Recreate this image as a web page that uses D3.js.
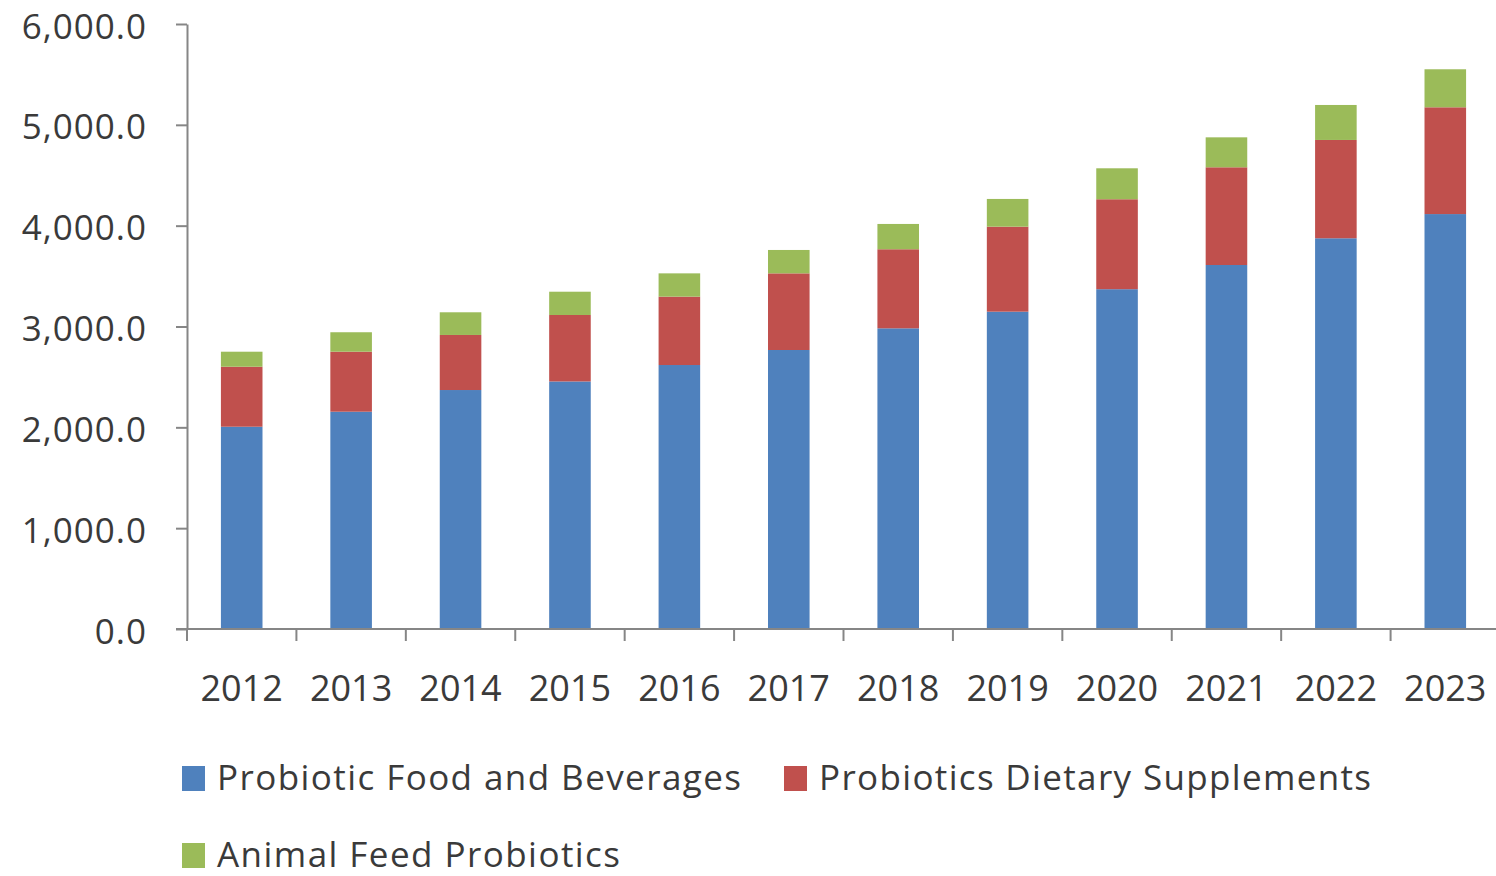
<!DOCTYPE html>
<html>
<head>
<meta charset="utf-8">
<script src="https://cdn.jsdelivr.net/npm/d3@7"></script>
<style>
  html, body { margin: 0; padding: 0; background: #ffffff; }
  svg { display: block; }
  text { font-family: "Open Sans", "DejaVu Sans", sans-serif; fill: #3a3a3a; }
</style>
</head>
<body>
<svg id="chart" width="1496" height="876"></svg>
<script>
// ---- data ----
const years = ["2012","2013","2014","2015","2016","2017","2018","2019","2020","2021","2022","2023"];
const seriesNames = ["Probiotic Food and Beverages", "Probiotics Dietary Supplements", "Animal Feed Probiotics"];
const foodBeverages = [2006, 2155, 2370, 2455, 2618, 2767, 2982, 3147, 3370, 3610, 3875, 4115];
const dietarySupplements = [595, 595, 546, 659, 678, 760, 784, 843, 892, 969, 975, 1059];
const animalFeed = [149, 193, 225, 231, 231, 232, 251, 275, 307, 297, 347, 377];
const yTicks = [0, 1000, 2000, 3000, 4000, 5000, 6000];
const colors = ["#4F81BD", "#C0504D", "#9BBB59"];

// ---- layout ----
const svg = d3.select("#chart");
const plot = { left: 187, right: 1500, top: 24, bottom: 629 };

const x = d3.scaleBand().domain(years).range([plot.left, plot.right])
  .paddingInner(0.62).paddingOuter(0.31);
const y = d3.scaleLinear().domain([0, 6000]).range([plot.bottom, plot.top]);

const rows = years.map((yr, i) => ({
  year: yr,
  [seriesNames[0]]: foodBeverages[i],
  [seriesNames[1]]: dietarySupplements[i],
  [seriesNames[2]]: animalFeed[i]
}));
const stacked = d3.stack().keys(seriesNames)(rows);

// bars
svg.append("g").selectAll("g").data(stacked).join("g")
  .attr("fill", (d, i) => colors[i])
  .selectAll("rect").data(d => d).join("rect")
  .attr("x", d => x(d.data.year))
  .attr("width", x.bandwidth())
  .attr("y", d => y(d[1]))
  .attr("height", d => y(d[0]) - y(d[1]));

// y axis
const yAxis = svg.append("g").attr("transform", `translate(${plot.left},0)`)
  .call(d3.axisLeft(y).tickValues(yTicks).tickSize(11).tickSizeOuter(0).tickPadding(29)
    .tickFormat(d3.format(",.1f")));
yAxis.select(".domain").attr("stroke", "#868686").attr("stroke-width", 2);
yAxis.selectAll(".tick line").attr("stroke", "#868686").attr("stroke-width", 2);
yAxis.selectAll(".tick text")
  .style("font-size", "35px")
  .style("letter-spacing", "1px")
  .attr("dy", "0.4em")
  .attr("fill", "#3a3a3a");

// x axis line
svg.append("line")
  .attr("x1", plot.left - 11).attr("x2", plot.right)
  .attr("y1", y(0)).attr("y2", y(0))
  .attr("stroke", "#868686").attr("stroke-width", 2);

// x boundary ticks
const step = x.step();
const boundaries = years.map(yr => x(yr) - step * x.paddingInner() / 2);
boundaries.push(x(years[years.length - 1]) + x.bandwidth() + step * x.paddingInner() / 2);
svg.append("g").selectAll("line").data(boundaries).join("line")
  .attr("x1", d => d).attr("x2", d => d)
  .attr("y1", y(0)).attr("y2", y(0) + 12)
  .attr("stroke", "#868686").attr("stroke-width", 2);

// x labels
svg.append("g").selectAll("text").data(years).join("text")
  .attr("x", d => x(d) + x.bandwidth() / 2)
  .attr("y", 701)
  .attr("text-anchor", "middle")
  .style("font-size", "36px")
  .text(d => d);

// legend
const legendItems = [
  { name: seriesNames[0], color: colors[0], x: 182, y: 766, w: 524 },
  { name: seriesNames[1], color: colors[1], x: 784, y: 766, w: 552 },
  { name: seriesNames[2], color: colors[2], x: 182, y: 843, w: 403 }
];
const lg = svg.append("g").selectAll("g").data(legendItems).join("g")
  .attr("transform", d => `translate(${d.x},${d.y})`);
lg.append("rect").attr("width", 23).attr("height", 25).attr("fill", d => d.color);
lg.append("text").attr("x", 35).attr("y", 24)
  .style("font-size", "35px")
  .attr("textLength", d => d.w)
  .attr("lengthAdjust", "spacing")
  .text(d => d.name);
</script>
</body>
</html>
